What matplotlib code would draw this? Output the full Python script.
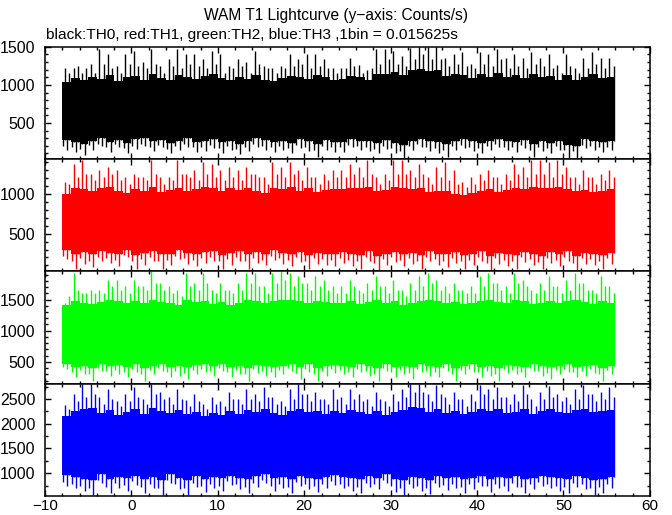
import numpy as np
import matplotlib
matplotlib.use("Agg")
import matplotlib.pyplot as plt
from matplotlib.ticker import MultipleLocator

plt.rcParams["font.family"] = ["Liberation Sans", "DejaVu Sans"]

# ---------------------------------------------------------------------------
# Data (counts/s), one value per 1 s chunk:
#   *_hi / *_lo         : highest / lowest spike in the chunk
#   *_mid_hi / *_mid_lo : a second, shorter spike in the chunk
#   *_band_hi / _lo     : edges of the dense (solid) part of the curve
# ---------------------------------------------------------------------------
t_start, t_stop = -8.0, 56.0
chunk_s = 1.0

th0_hi = [1216, 1216, 1152, 1280, 1472, 1408, 1250, 1400, 1450, 1300, 1472, 1250, 1344, 1472, 1408, 1400,
          1344, 1440, 1400, 1250, 1344, 1300, 1440, 1250, 1216, 1250, 1400, 1344, 1400, 1408, 1344, 1216,
          1220, 1351, 1263, 1200, 1470, 1470, 1450, 1380, 1490, 1500, 1500, 1500, 1350, 1400, 1430, 1280,
          1430, 1400, 1470, 1350, 1400, 1350, 1430, 1350, 1400, 1260, 1400, 1220, 1350, 1430, 1350, 1350]
th0_mid_hi = [1152, 1250, 1216, 1152, 1280, 1216, 1152, 1280, 1250, 1216, 1280, 1152, 1250, 1216, 1280, 1250,
              1216, 1280, 1152, 1216, 1250, 1152, 1280, 1216, 1152, 1216, 1250, 1280, 1216, 1250, 1216, 1152,
              1216, 1250, 1152, 1216, 1280, 1344, 1280, 1250, 1344, 1408, 1344, 1344, 1250, 1280, 1250, 1216,
              1280, 1250, 1344, 1216, 1250, 1216, 1280, 1250, 1216, 1152, 1250, 1152, 1216, 1280, 1216, 1250]
th0_lo = [150, 122, 80, 150, 200, 120, 180, 100, 160, 200, 130, 180, 100, 150, 190, 120,
          130, 170, 110, 150, 90, 130, 180, 150, 120, 140, 100, 170, 130, 50, 150, 120,
          120, 180, 150, 130, 100, 160, 100, 40, 150, 180, 130, 110, 60, 150, 170, 130,
          110, 150, 180, 140, 120, 170, 60, 130, 110, 150, 40, 30, 170, 150, 120, 140]
th0_mid_lo = [200, 190, 160, 210, 230, 180, 220, 170, 200, 230, 190, 210, 160, 200, 220, 180,
              190, 210, 170, 200, 160, 190, 220, 200, 180, 200, 170, 210, 190, 140, 200, 180,
              180, 210, 200, 190, 160, 200, 170, 130, 200, 220, 190, 170, 150, 200, 210, 190,
              170, 200, 220, 190, 180, 210, 150, 190, 170, 200, 140, 130, 210, 200, 180, 190]
th0_band_hi = [1040, 1090, 1060, 1110, 1080, 1130, 1050, 1100, 1120, 1070, 1140, 1090, 1060, 1130, 1100, 1080,
               1120, 1150, 1090, 1060, 1110, 1080, 1130, 1070, 1050, 1090, 1120, 1100, 1080, 1130, 1110, 1060,
               1080, 1120, 1100, 1070, 1150, 1140, 1170, 1130, 1190, 1210, 1180, 1200, 1120, 1150, 1130, 1090,
               1140, 1110, 1160, 1100, 1130, 1090, 1150, 1110, 1120, 1060, 1130, 1070, 1100, 1140, 1090, 1100]
th0_band_lo = [280, 250, 230, 270, 300, 250, 280, 240, 290, 310, 260, 280, 240, 270, 300, 250,
               260, 290, 250, 270, 230, 260, 300, 280, 250, 270, 240, 290, 260, 220, 280, 250,
               250, 290, 270, 260, 240, 280, 240, 210, 270, 290, 260, 250, 220, 270, 290, 260,
               240, 270, 290, 260, 250, 280, 220, 260, 240, 270, 210, 200, 290, 270, 250, 260]

th1_hi = [1150, 1379, 1421, 1250, 1296, 1337, 1296, 1212, 1254, 1212, 1421, 1212, 1212, 1421, 1254, 1296,
          1400, 1379, 1296, 1337, 1296, 1337, 1254, 1212, 1400, 1337, 1400, 1296, 1337, 1212, 1254, 1296,
          1296, 1379, 1337, 1421, 1212, 1254, 1421, 1421, 1296, 1379, 1212, 1337, 1400, 1296, 1150, 1212,
          1254, 1296, 1212, 1254, 1379, 1337, 1421, 1421, 1400, 1421, 1337, 1212, 1296, 1212, 1254, 1296]
th1_mid_hi = [1130, 1210, 1250, 1170, 1210, 1250, 1170, 1130, 1210, 1170, 1250, 1130, 1170, 1250, 1210, 1170,
              1250, 1210, 1170, 1210, 1170, 1250, 1210, 1130, 1250, 1210, 1250, 1170, 1210, 1130, 1170, 1210,
              1210, 1250, 1210, 1250, 1130, 1170, 1250, 1250, 1210, 1250, 1130, 1210, 1170, 1130, 1090, 1130,
              1170, 1210, 1130, 1170, 1250, 1210, 1250, 1250, 1210, 1250, 1210, 1130, 1210, 1130, 1170, 1210]
th1_lo = [180, 50, 120, 80, 160, 130, 90, 200, 60, 110, 150, 60, 100, 180, 120, 90,
          130, 160, 60, 110, 150, 60, 130, 100, 170, 120, 90, 140, 60, 120, 110, 90,
          130, 90, 60, 160, 40, 110, 140, 90, 120, 60, 150, 110, 80, 130, 60, 100,
          150, 40, 120, 90, 60, 140, 110, 50, 130, 90, 150, 40, 120, 110, 60, 120]
th1_mid_lo = [220, 150, 190, 160, 210, 190, 170, 230, 150, 180, 210, 150, 170, 220, 190, 170,
              190, 210, 150, 180, 210, 150, 190, 170, 220, 190, 170, 200, 150, 190, 180, 170,
              190, 170, 150, 210, 130, 180, 200, 170, 190, 150, 210, 180, 160, 190, 150, 170,
              210, 130, 190, 170, 150, 200, 180, 140, 190, 170, 210, 130, 190, 180, 150, 190]
th1_band_hi = [1000, 1080, 1060, 1030, 1070, 1090, 1040, 1010, 1060, 1030, 1090, 1020, 1050, 1080, 1040, 1060,
               1090, 1070, 1040, 1080, 1050, 1070, 1030, 1010, 1080, 1060, 1090, 1040, 1070, 1020, 1050, 1060,
               1060, 1080, 1070, 1090, 1030, 1050, 1090, 1080, 1060, 1070, 1020, 1040, 1030, 1000, 990, 1010,
               1040, 1060, 1020, 1050, 1080, 1060, 1090, 1080, 1070, 1090, 1060, 1030, 1050, 1020, 1040, 1060]
th1_band_lo = [290, 240, 270, 250, 280, 260, 240, 300, 230, 260, 280, 240, 250, 290, 260, 240,
               270, 280, 230, 260, 280, 240, 270, 250, 290, 260, 240, 270, 230, 260, 250, 240,
               270, 240, 230, 280, 220, 250, 270, 240, 260, 230, 280, 250, 240, 270, 230, 250,
               280, 220, 260, 240, 230, 270, 250, 220, 270, 240, 280, 220, 260, 250, 230, 260]

th2_hi = [1445, 1928, 1607, 1660, 1660, 1821, 1821, 1714, 1821, 1714, 1955, 1767, 1714, 1660, 1928, 1767,
          1928, 1660, 1767, 1660, 1767, 1928, 1928, 1714, 1928, 1955, 1928, 1875, 1767, 1875, 1821, 1714,
          1714, 1821, 1660, 1767, 1875, 1714, 1821, 1660, 1767, 1875, 1928, 1821, 1714, 1767, 1660, 1714,
          1875, 1928, 1767, 1714, 1928, 1821, 1660, 1767, 1875, 1714, 1821, 1928, 1767, 1660, 1875, 1714]
th2_mid_hi = [1550, 1660, 1600, 1600, 1600, 1710, 1660, 1600, 1710, 1660, 1770, 1660, 1600, 1550, 1710, 1660,
              1770, 1600, 1660, 1600, 1660, 1770, 1710, 1600, 1770, 1820, 1710, 1770, 1660, 1710, 1660, 1600,
              1600, 1710, 1600, 1660, 1710, 1600, 1660, 1550, 1660, 1710, 1770, 1660, 1600, 1660, 1600, 1600,
              1710, 1770, 1660, 1600, 1770, 1710, 1600, 1660, 1710, 1600, 1660, 1770, 1660, 1600, 1710, 1600]
th2_lo = [380, 250, 300, 200, 350, 280, 300, 260, 330, 200, 300, 350, 250, 280, 220, 300,
          330, 270, 350, 250, 300, 200, 320, 280, 250, 300, 350, 220, 330, 200, 280, 320,
          300, 250, 330, 280, 200, 350, 260, 300, 220, 330, 280, 250, 350, 200, 300, 330,
          260, 280, 200, 320, 300, 250, 350, 280, 220, 300, 330, 250, 280, 320, 200, 300]
th2_mid_lo = [420, 340, 370, 310, 400, 350, 370, 340, 390, 310, 370, 400, 340, 350, 320, 370,
              390, 350, 400, 340, 370, 310, 380, 350, 340, 370, 400, 320, 390, 310, 350, 380,
              370, 340, 390, 350, 310, 400, 340, 370, 320, 390, 350, 340, 400, 310, 370, 390,
              340, 350, 310, 380, 370, 340, 400, 350, 320, 370, 390, 340, 350, 380, 310, 370]
th2_band_hi = [1420, 1480, 1450, 1430, 1460, 1490, 1470, 1440, 1480, 1450, 1500, 1460, 1440, 1420, 1490, 1460,
               1480, 1430, 1460, 1410, 1450, 1490, 1480, 1440, 1470, 1500, 1490, 1470, 1450, 1480, 1460, 1440,
               1450, 1480, 1430, 1460, 1490, 1440, 1470, 1420, 1450, 1480, 1500, 1470, 1440, 1460, 1430, 1450,
               1480, 1500, 1460, 1440, 1490, 1470, 1430, 1450, 1480, 1440, 1470, 1500, 1460, 1430, 1480, 1450]
th2_band_lo = [470, 420, 440, 400, 460, 430, 450, 420, 460, 400, 440, 470, 420, 430, 410, 450,
               460, 430, 470, 420, 440, 400, 450, 430, 420, 440, 470, 410, 460, 400, 430, 450,
               440, 420, 460, 430, 400, 470, 420, 440, 410, 460, 430, 420, 470, 400, 440, 460,
               420, 430, 400, 450, 440, 420, 470, 430, 410, 440, 460, 420, 430, 450, 400, 440]

th3_hi = [2380, 2600, 2800, 2810, 2550, 2700, 2450, 2600, 2750, 2500, 2810, 2650, 2550, 2700, 2480, 2600,
          2400, 2550, 2450, 2650, 2500, 2700, 2600, 2750, 2550, 2450, 2700, 2800, 2600, 2650, 2500, 2700,
          2550, 2700, 2600, 2500, 2650, 2450, 2600, 2700, 2810, 2810, 2600, 2780, 2550, 2650, 2500, 2600,
          2780, 2700, 2750, 2550, 2600, 2780, 2500, 2650, 2760, 2600, 2550, 2700, 2780, 2600, 2650, 2750]
th3_mid_hi = [2300, 2450, 2550, 2600, 2400, 2500, 2350, 2450, 2550, 2400, 2600, 2500, 2400, 2500, 2350, 2450,
              2300, 2400, 2350, 2500, 2400, 2500, 2450, 2550, 2400, 2350, 2500, 2600, 2450, 2500, 2400, 2500,
              2400, 2500, 2450, 2350, 2500, 2350, 2450, 2550, 2650, 2650, 2450, 2600, 2400, 2500, 2350, 2450,
              2600, 2500, 2550, 2400, 2450, 2600, 2350, 2500, 2550, 2450, 2400, 2500, 2600, 2450, 2500, 2550]
th3_lo = [750, 700, 640, 560, 800, 600, 700, 650, 760, 600, 700, 560, 800, 680, 560, 720,
          620, 700, 640, 760, 680, 600, 720, 800, 640, 700, 600, 750, 680, 620, 700, 760,
          700, 640, 600, 720, 680, 800, 620, 560, 700, 640, 580, 720, 660, 700, 600, 680,
          750, 620, 700, 640, 720, 600, 680, 750, 700, 640, 600, 720, 680, 560, 600, 700]
th3_mid_lo = [830, 790, 750, 700, 860, 720, 800, 760, 840, 720, 790, 700, 860, 780, 700, 810,
              740, 790, 750, 840, 780, 720, 810, 860, 750, 790, 720, 830, 780, 740, 790, 840,
              790, 750, 720, 810, 780, 860, 740, 700, 790, 750, 710, 810, 760, 790, 720, 780,
              830, 740, 790, 750, 810, 720, 780, 830, 790, 750, 720, 810, 780, 700, 720, 790]
th3_band_hi = [2150, 2260, 2300, 2310, 2220, 2280, 2180, 2240, 2290, 2200, 2310, 2250, 2210, 2270, 2190, 2230,
               2160, 2210, 2180, 2250, 2200, 2270, 2230, 2290, 2210, 2180, 2260, 2300, 2230, 2250, 2200, 2260,
               2210, 2270, 2230, 2190, 2250, 2180, 2240, 2280, 2330, 2320, 2240, 2300, 2210, 2250, 2190, 2230,
               2300, 2260, 2290, 2210, 2240, 2300, 2190, 2250, 2290, 2230, 2210, 2270, 2300, 2230, 2250, 2280]
th3_band_lo = [960, 920, 890, 860, 980, 880, 930, 900, 950, 880, 920, 860, 980, 910, 860, 940,
               890, 930, 900, 950, 910, 880, 940, 980, 900, 930, 880, 950, 910, 890, 930, 960,
               930, 900, 880, 940, 910, 980, 890, 860, 930, 900, 870, 940, 910, 930, 880, 910,
               950, 890, 930, 900, 940, 880, 910, 950, 930, 900, 880, 940, 910, 860, 880, 930]

y_ranges = [(26, 1500), (25, 1437), (150, 1952), (540, 2810)]
y_major = [500, 500, 500, 500]
y_minor = [100, 100, 100, 250]
colors = ["black", "red", "#00ff00", "blue"]

channels = [
    (th0_hi, th0_mid_hi, th0_lo, th0_mid_lo, th0_band_hi, th0_band_lo),
    (th1_hi, th1_mid_hi, th1_lo, th1_mid_lo, th1_band_hi, th1_band_lo),
    (th2_hi, th2_mid_hi, th2_lo, th2_mid_lo, th2_band_hi, th2_band_lo),
    (th3_hi, th3_mid_hi, th3_lo, th3_mid_lo, th3_band_hi, th3_band_lo),
]

# ---------------------------------------------------------------------------
# Figure
# ---------------------------------------------------------------------------
fig = plt.figure(figsize=(6.72, 5.15), dpi=100)
gs = fig.add_gridspec(4, 1, left=0.067, right=0.967, top=0.909, bottom=0.037, hspace=0)
axes = [fig.add_subplot(gs[i]) for i in range(4)]

for i, ax in enumerate(axes):
    hi, mid_hi, lo, mid_lo, band_hi, band_lo = (np.asarray(a, float) for a in channels[i])
    n = len(hi)
    k = np.arange(n)
    edges = t_start + chunk_s * np.arange(n + 1)

    # solid part of the curve, stepped per chunk
    ax.stairs(band_hi, edges, baseline=band_lo, fill=True, color=colors[i], lw=0)
    # spikes above and below it
    ax.vlines(t_start + chunk_s * (k + 0.30), band_lo, hi, color=colors[i], lw=1.0)
    ax.vlines(t_start + chunk_s * (k + 0.80), band_lo, mid_hi, color=colors[i], lw=1.0)
    ax.vlines(t_start + chunk_s * (k + 0.60), lo, band_hi, color=colors[i], lw=1.0)
    ax.vlines(t_start + chunk_s * (k + 0.10), mid_lo, band_hi, color=colors[i], lw=1.0)

    ax.set_xlim(-10, 60)
    ax.set_ylim(*y_ranges[i])
    ax.xaxis.set_major_locator(MultipleLocator(10))
    ax.xaxis.set_minor_locator(MultipleLocator(2))
    ax.yaxis.set_major_locator(MultipleLocator(y_major[i]))
    ax.yaxis.set_minor_locator(MultipleLocator(y_minor[i]))
    ax.tick_params(which="both", direction="in", top=True, right=True, width=1)
    ax.tick_params(which="major", length=4.5)
    ax.tick_params(which="minor", length=2.5)
    ax.tick_params(axis="y", pad=7, labelsize=11.5)
    ax.tick_params(axis="x", pad=2, labelsize=11)
    for sp in ax.spines.values():
        sp.set_linewidth(1.1)
    if i < 3:
        ax.tick_params(labelbottom=False)

fig.text(0.5, 0.97, "WAM T1 Lightcurve (y\u2212axis: Counts/s)", ha="center", va="center", fontsize=11.2)
fig.text(0.069, 0.932, "black:TH0, red:TH1, green:TH2, blue:TH3 ,1bin = 0.015625s",
         ha="left", va="center", fontsize=11.1)

fig.savefig("out.png", dpi=100)
